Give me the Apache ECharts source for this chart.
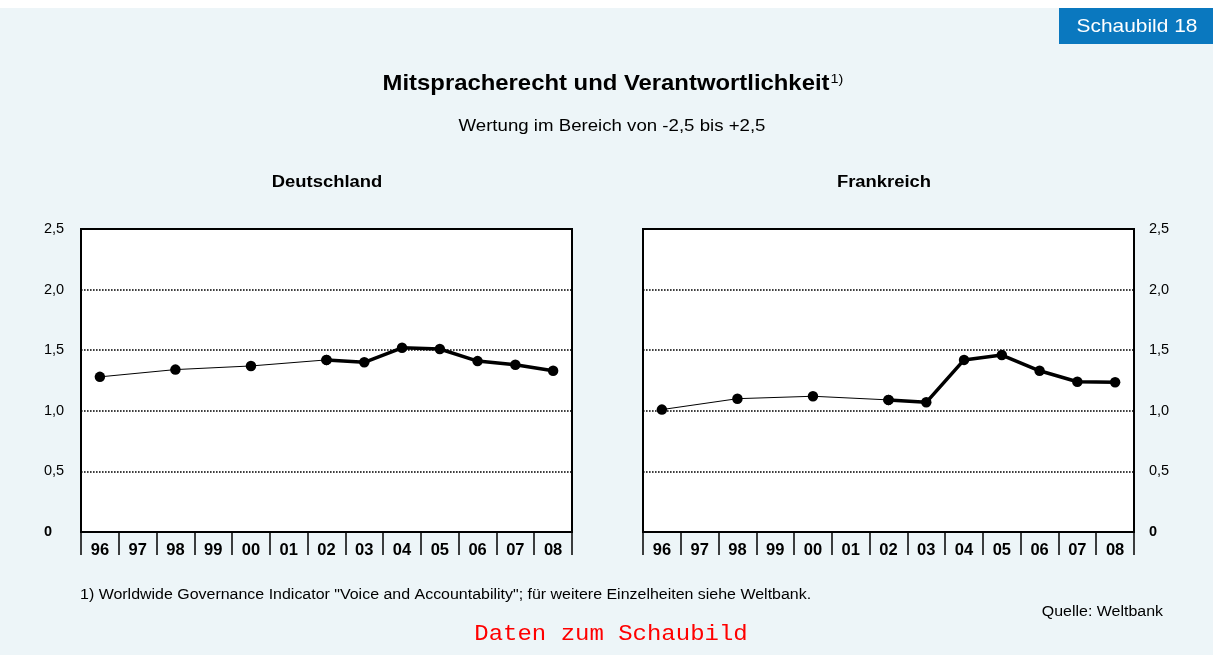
<!DOCTYPE html>
<html>
<head>
<meta charset="utf-8">
<script src="https://cdn.jsdelivr.net/npm/echarts@6/dist/echarts.min.js"></script>
<style>
html,body{margin:0;padding:0;background:#fff;}
#chart{width:1213px;height:655px;}
</style>
</head>
<body>
<div id="chart"></div>
<script>
// ---- data ----
var years = ['96','97','98','99','00','01','02','03','04','05','06','07','08'];
var deutschland = [1.28, null, 1.34, null, 1.37, null, 1.42, 1.40, 1.52, 1.51, 1.41, 1.38, 1.33];
var frankreich  = [1.01, null, 1.10, null, 1.12, null, 1.09, 1.07, 1.42, 1.46, 1.33, 1.24, 1.235];
var annualFrom = 6; // index of '02': data annual from here on (thick line)
var yTicks = [0, 0.5, 1.0, 1.5, 2.0, 2.5];

var FONT = '"Liberation Sans", Arial, sans-serif';

function part(arr, thick) {
  return arr.map(function (v, i) {
    if (thick) return i >= annualFrom ? v : null;
    return i <= annualFrom ? v : null;
  });
}

function yLabel(v) {
  if (v === 0) return '{z|0}';
  return v.toFixed(1).replace('.', ',');
}

function makeGrid(left) {
  return {
    left: left, top: 229, width: 491, height: 303,
    show: true, backgroundColor: '#ffffff',
    borderColor: '#000', borderWidth: 2, containLabel: false
  };
}

function xAxis(idx) {
  return {
    type: 'category', gridIndex: idx, data: years, boundaryGap: true,
    axisLine: { show: true, lineStyle: { color: '#000', width: 2 } },
    axisTick: { show: true, interval: 0, length: 23, lineStyle: { color: '#000', width: 1.5 } },
    axisLabel: { interval: 0, margin: 10, color: '#000', fontFamily: FONT, fontWeight: 'bold', fontSize: 16.5 },
    splitLine: { show: false }
  };
}

function yAxis(idx, pos) {
  return {
    type: 'value', gridIndex: idx, min: yTicks[0], max: yTicks[yTicks.length - 1], interval: 0.5, position: pos,
    axisLine: { show: false }, axisTick: { show: false },
    axisLabel: {
      formatter: yLabel, color: '#000', fontFamily: FONT, fontSize: 14.5,
      align: 'left', margin: pos === 'left' ? 37 : 15,
      rich: { z: { fontWeight: 'bold', fontSize: 14.5, fontFamily: FONT, color: '#000' } }
    },
    splitLine: { show: true, lineStyle: { color: '#000', width: 1.6, type: [1.6, 1.4] } }
  };
}

function lineSeries(idx, data, thick) {
  return {
    type: 'line', xAxisIndex: idx, yAxisIndex: idx,
    data: part(data, thick), connectNulls: true,
    symbol: 'circle', symbolSize: 10.5, showSymbol: true,
    lineStyle: { color: '#000', width: thick ? 3.5 : 1 },
    itemStyle: { color: '#000' },
    animation: false, z: thick ? 3 : 2
  };
}

function txt(x, y, text, font, align, sx, color) {
  return { type: 'text', x: x, y: y, scaleX: sx || 1,
    style: { text: text, fill: color || '#000', font: font, align: align, verticalAlign: 'middle' } };
}

var chart = echarts.init(document.getElementById('chart'), null, { renderer: 'canvas' });

var option = {
  backgroundColor: '#ffffff',
  animation: false,
  grid: [makeGrid(81), makeGrid(643)],
  xAxis: [xAxis(0), xAxis(1)],
  yAxis: [yAxis(0, 'left'), yAxis(1, 'right')],
  series: [
    lineSeries(0, deutschland, false),
    lineSeries(0, deutschland, true),
    lineSeries(1, frankreich, false),
    lineSeries(1, frankreich, true)
  ],
  graphic: [
    { type: 'rect', z: -10, shape: { x: 0, y: 8, width: 1213, height: 647 }, style: { fill: '#EDF5F8' } },
    { type: 'rect', z: -5, shape: { x: 1059, y: 8, width: 154, height: 36 }, style: { fill: '#0A78BF' } },
    txt(1137, 27, 'Schaubild 18', '19px ' + FONT, 'center', 1.1, '#fff'),
    { type: 'text', x: 613, y: 84, scaleX: 1.11, style: {
        text: '{a|Mitspracherecht und Verantwortlichkeit}{s|1)}',
        align: 'center', verticalAlign: 'middle',
        rich: {
          a: { font: 'bold 21.5px ' + FONT, fill: '#000' },
          s: { font: '13px ' + FONT, fill: '#000', verticalAlign: 'top', padding: [0, 0, 9, 1] }
        }
    } },
    txt(612, 126, 'Wertung im Bereich von -2,5 bis +2,5', '16.5px ' + FONT, 'center', 1.13),
    txt(327, 183, 'Deutschland', 'bold 16px ' + FONT, 'center', 1.15),
    txt(884, 183, 'Frankreich', 'bold 16px ' + FONT, 'center', 1.15),
    txt(80, 595, '1) Worldwide Governance Indicator "Voice and Accountability"; f\u00fcr weitere Einzelheiten siehe Weltbank.', '14px ' + FONT, 'left', 1.14),
    txt(1163, 612, 'Quelle: Weltbank', '14px ' + FONT, 'right', 1.14),
    txt(611, 634, 'Daten zum Schaubild', '22px "Liberation Mono", "Courier New", monospace', 'center', 1.09, '#ff0000')
  ]
};
chart.setOption(option);
</script>
</body>
</html>
